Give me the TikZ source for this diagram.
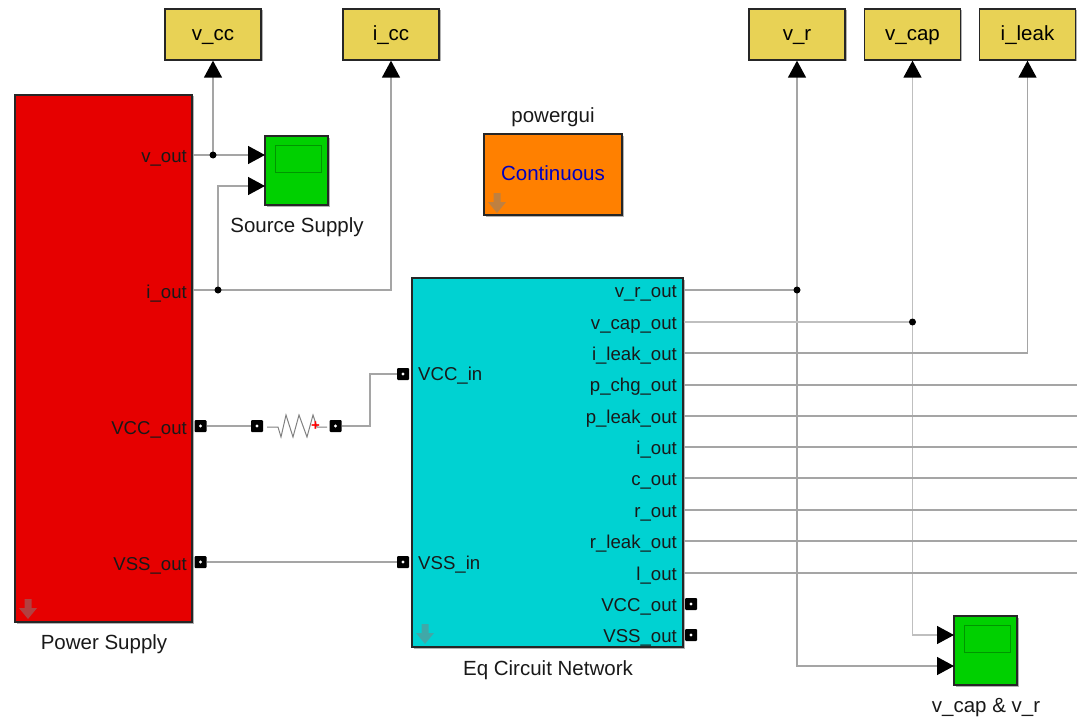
\documentclass[tikz,border=0pt]{standalone}
\usepackage{fontspec}
\setmainfont{Liberation Sans}
\usepackage{tikz}
\usetikzlibrary{arrows.meta, positioning, shadows}

\definecolor{blockred}{RGB}{230,0,0}
\definecolor{blockgreen}{RGB}{0,208,0}
\definecolor{blockteal}{RGB}{0,210,210}
\definecolor{blockorange}{RGB}{255,128,0}
\definecolor{blockyellow}{RGB}{232,210,85}
\definecolor{wiregray}{RGB}{165,165,165}
\definecolor{screengreen}{RGB}{0,150,0}

\tikzset{
    block/.style={draw=black!85, line width=1.3pt, inner sep=0pt, font=\fontsize{20.5}{24}\selectfont,
        drop shadow={shadow xshift=1.5pt, shadow yshift=-1.5pt, opacity=0.3, fill=black}},
    display/.style={block, fill=blockyellow, minimum width=96pt, minimum height=51pt, text height=15pt, text depth=2pt},
    scopebox/.style={block, fill=blockgreen, minimum width=63pt, minimum height=69pt},
    screen/.style={draw=screengreen, line width=1pt, minimum width=46pt, minimum height=27pt, inner sep=0pt},
    txt/.style={font=\fontsize{20.5}{24}\selectfont, inner sep=0pt, text=black!90},
    porttxt/.style={font=\fontsize{18.6}{22}\selectfont, inner sep=0pt, text=black!90},
    wire/.style={draw=wiregray, line width=1.4pt},
    sig/.style={wire, -{Triangle[length=17pt, width=18pt, color=black]}},
    dot/.style={circle, fill=black, minimum size=7pt, inner sep=0pt},
    port/.style={rectangle, fill=black, rounded corners=1pt, minimum size=12pt, inner sep=0pt,
        path picture={\fill[white] (path picture bounding box.center) circle (1.7pt);}},
    maskarrow/.pic={\fill[gray, opacity=0.5] (-3.5,-10) -- (3.5,-10) -- (3.5,-1) -- (9,-1) -- (0,10) -- (-9,-1) -- (-3.5,-1) -- cycle;}
}

\begin{document}
\begin{tikzpicture}[x=1pt, y=-1pt]
    \useasboundingbox (0,0) rectangle (1077,717);

    % Bloques grandes
    \node[block, fill=blockred, minimum width=177pt, minimum height=527pt] (power) at (103.5,358.5) {};
    \node[block, fill=blockteal, minimum width=271pt, minimum height=369pt] (network) at (547.5,462.5) {};
    \node[block, fill=blockorange, minimum width=138pt, minimum height=81pt] (gui) at (553,174.5) {};
    \node[txt, text=blue!75!black] (guitext) at (553,173) {Continuous};
    \pic at (28,609) {maskarrow};
    \pic at (425,634) {maskarrow};
    \pic at (497,203) {maskarrow};
    \node[txt] (powerlabel) at (104,644) {Power Supply};
    \node[txt] (networklabel) at (548,670) {Eq Circuit Network};
    \node[txt] (guilabel) at (553,117) {powergui};

    % Displays
    \node[display] (vcc) at (213,34.5) {v\_cc};
    \node[display] (icc) at (391,34.5) {i\_cc};
    \node[display] (vr) at (797,34.5) {v\_r};
    \node[display] (vcap) at (912.5,34.5) {v\_cap};
    \node[display] (ileak) at (1027.5,34.5) {i\_leak};

    % Scopes
    \node[scopebox] (scopea) at (296.5,170.5) {};
    \node[screen] at (298,158.5) {};
    \node[txt] (scopealabel) at (297,227) {Source Supply};
    \coordinate (scopeain) at (265,155);
    \coordinate (scopeaib) at (265,186);
    \node[scopebox] (scopeb) at (985.5,650.5) {};
    \node[screen] at (987,638.5) {};
    \node[txt] (scopeblabel) at (986,708) {v\_cap \& v\_r};
    \coordinate (scopebia) at (954,635);
    \coordinate (scopebib) at (954,666);

    % Puertos del bloque rojo
    \node[porttxt, anchor=base east] (vout) at (187,162) {v\_out};
    \node[porttxt, anchor=base east] (iout) at (187,298) {i\_out};
    \node[porttxt, anchor=base east] (vccout) at (187,434) {VCC\_out};
    \node[porttxt, anchor=base east] (vssout) at (187,570) {VSS\_out};
    \node[port] (pvcc) at (200.5,426) {};
    \node[port] (pvss) at (200.5,562) {};

    % Puertos del bloque central
    \node[porttxt, anchor=base west] (vccin) at (418,380) {VCC\_in};
    \node[porttxt, anchor=base west] (vssin) at (418,569) {VSS\_in};
    \node[port] (pvccin) at (403,374) {};
    \node[port] (pvssin) at (403,562) {};
    \foreach \name/\lab/\y in {vrout/v\_r\_out/297, vcapout/v\_cap\_out/329, ileakout/i\_leak\_out/360,
        pchgout/p\_chg\_out/391, pleakout/p\_leak\_out/423, inout/i\_out/454, cout/c\_out/485,
        rout/r\_out/517, rleakout/r\_leak\_out/548, lout/l\_out/580, vccnet/VCC\_out/611, vssnet/VSS\_out/642}
        \node[porttxt, anchor=base east] (\name) at (677,\y) {\lab};
    \node[port] (pvccnet) at (691,604) {};
    \node[port] (pvssnet) at (691,635) {};

    % Resistencia
    \node[port] (rleft) at (257,426) {};
    \node[port] (rright) at (335.5,426) {};
    \draw[gray, line width=1pt] (267,427) -- (278,427) -- (281,437) -- (286,415) -- (293,437) -- (299,415)
        -- (307,437) -- (313,415) -- (317,427) -- (327,427);
    \node[text=red, font=\fontsize{15}{15}\bfseries\selectfont, inner sep=0pt] (rplus) at (315.5,426) {+};

    % Uniones
    \coordinate (jvcc) at (213,155);
    \coordinate (jicc) at (218,290);
    \coordinate (jvr) at (797,290);
    \coordinate (jvcap) at (912.5,322);

    % Lineas del bloque rojo
    \draw[wire] (power.east |- jvcc) -- (jvcc);
    \draw[sig] (jvcc) -- (vcc.south);
    \draw[sig] (jvcc) -- (scopeain);
    \draw[wire] (power.east |- jicc) -- (jicc);
    \draw[sig] (jicc) -- (jicc |- scopeaib) -- (scopeaib);
    \draw[sig] (jicc) -- (icc.south |- jicc) -- (icc.south);
    \draw[wire] (pvcc) -- (rleft);
    \draw[wire] (rright) -- (370,426) -- (370,374) -- (pvccin);
    \draw[wire] (pvss) -- (pvssin);

    % Lineas del bloque central
    \draw[wire] (network.east |- jvr) -- (jvr);
    \draw[sig] (jvr) -- (vr.south);
    \draw[sig] (jvr) -- (jvr |- scopebib) -- (scopebib);
    \draw[wire, draw=black!25] (network.east |- jvcap) -- (jvcap);
    \draw[sig, draw=black!25] (jvcap) -- (vcap.south);
    \draw[sig, draw=black!25] (jvcap) -- (jvcap |- scopebia) -- (scopebia);
    \draw[sig] (network.east |- 0,353) -- (1027.5,353) -- (ileak.south);
    \foreach \y in {385, 416, 447, 478, 510, 541, 573}
        \draw[wire] (network.east |- 0,\y) -- (1077,\y);

    % Puntos encima de las lineas
    \node[dot] (dvcc) at (jvcc) {};
    \node[dot] (dicc) at (jicc) {};
    \node[dot] (dvr) at (jvr) {};
    \node[dot] (dvcap) at (jvcap) {};
\end{tikzpicture}
\end{document}
